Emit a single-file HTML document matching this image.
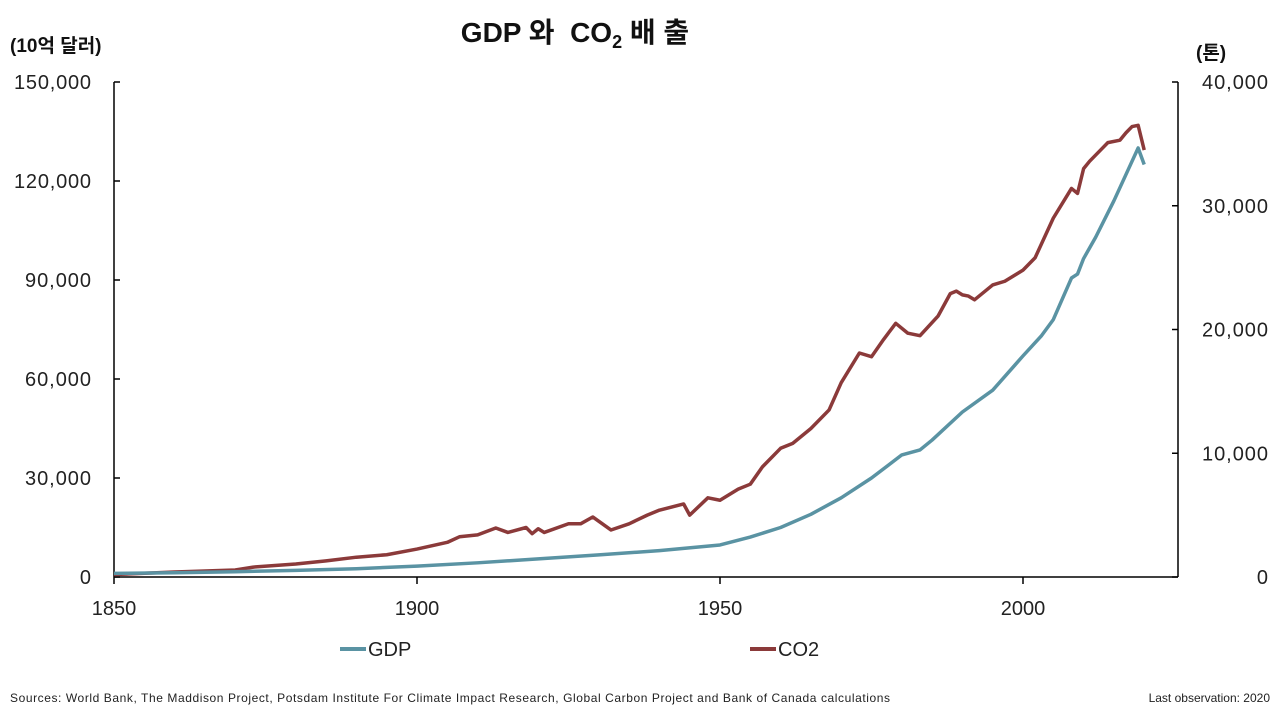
<!DOCTYPE html>
<html><head><meta charset="utf-8"><style>
body{margin:0;background:#fff;}
svg text{font-family:"Liberation Sans","Noto Sans CJK KR",sans-serif;}
</style></head><body>
<svg id="chart" width="1280" height="711" viewBox="0 0 1280 711">
<text x="575" y="42" text-anchor="middle" font-size="28" font-weight="bold" fill="#111">GDP 와 &#160;CO<tspan font-size="18" dy="6">2</tspan><tspan dy="-6"> 배 출</tspan></text>
<text x="10" y="52" font-size="19" font-weight="bold" fill="#111">(10억 달러)</text>
<text x="1196" y="59" font-size="19" font-weight="bold" fill="#111">(톤)</text>
<g id="axes"></g>
<g id="series"></g>
<g>
<line x1="340" y1="649" x2="366" y2="649" stroke="#5a93a3" stroke-width="4"/>
<text x="368" y="656" font-size="20" fill="#222">GDP</text>
<line x1="750" y1="649" x2="776" y2="649" stroke="#8b3a3a" stroke-width="4"/>
<text x="778" y="656" font-size="20" fill="#222">CO2</text>
</g>
<text x="10" y="702" font-size="12" fill="#222" textLength="880" lengthAdjust="spacing">Sources:  World Bank, The Maddison Project,  Potsdam Institute  For Climate  Impact  Research,  Global Carbon Project  and Bank of Canada calculations</text>
<text x="1270" y="702" font-size="12" fill="#222" text-anchor="end">Last observation: 2020</text>
</svg>
<script>
const xTicks=[1850,1900,1950,2000];
const leftTicks=[0,30000,60000,90000,120000,150000];
const rightTicks=[0,10000,20000,30000,40000];
const gdpYears=[1850,1860,1870,1880,1890,1900,1910,1920,1930,1940,1950,1955,1960,1965,1970,1975,1980,1983,1985,1990,1995,2000,2003,2005,2008,2009,2010,2012,2015,2018,2019,2020];
const gdpValues=[1100,1300,1600,2000,2500,3300,4300,5500,6700,8000,9700,12100,15000,19000,24000,30000,37000,38500,41500,50000,56600,67000,73000,78000,90600,91800,96500,103000,114000,126000,130000,125000];
const co2Years=[1850,1860,1870,1873,1880,1885,1890,1895,1900,1905,1907,1910,1913,1915,1918,1919,1920,1921,1925,1927,1929,1932,1935,1938,1940,1944,1945,1948,1950,1953,1955,1957,1960,1962,1965,1968,1970,1973,1975,1977,1979,1981,1983,1986,1988,1989,1990,1991,1992,1995,1997,2000,2002,2005,2008,2009,2010,2011,2013,2014,2016,2017,2018,2019,2020];
const co2Values=[200,400,570,800,1050,1300,1600,1800,2260,2800,3250,3400,3960,3600,4000,3500,3900,3600,4300,4300,4850,3800,4300,5000,5400,5900,5000,6400,6200,7100,7500,8900,10400,10800,12000,13500,15700,18100,17800,19200,20500,19700,19500,21100,22900,23100,22800,22700,22400,23600,23900,24800,25800,29000,31400,31000,33000,33600,34600,35100,35300,35900,36400,36500,34500];
const X=y=>114+(y-1850)*(1023-114)/150;
const YL=v=>577-v*(577-82)/150000;
const YR=v=>577-v*(577-82)/40000;
const ns="http://www.w3.org/2000/svg";
function mk(tag,attrs,parent){const e=document.createElementNS(ns,tag);for(const k in attrs)e.setAttribute(k,attrs[k]);parent.appendChild(e);return e;}
const ax=document.getElementById('axes');
let e;
e=mk('line',{x1:114,y1:577,x2:1178,y2:577,stroke:'#000','stroke-width':1.5},ax);


e=mk('line',{x1:114,y1:82,x2:114,y2:577,stroke:'#000','stroke-width':1.5},ax);


e=mk('line',{x1:1178,y1:82,x2:1178,y2:577,stroke:'#000','stroke-width':1.5},ax);


xTicks.forEach(t=>{
 mk('line',{x1:X(t),y1:577,x2:X(t),y2:584,stroke:'#000','stroke-width':1.5},ax);
 e=mk('text',{x:X(t),y:615,'text-anchor':'middle','font-size':20,fill:'#222'},ax);e.textContent=t;
 
 
});
leftTicks.forEach(t=>{
 mk('line',{x1:114,y1:YL(t),x2:120,y2:YL(t),stroke:'#000','stroke-width':1.5},ax);
 const s=t.toLocaleString('en-US');
 e=mk('text',{x:91,y:YL(t)+7,'text-anchor':'end','font-size':20,fill:'#222',textLength:s.length*11,lengthAdjust:'spacing'},ax);e.textContent=s;
 
 
});
rightTicks.forEach(t=>{
 mk('line',{x1:1172,y1:YR(t),x2:1178,y2:YR(t),stroke:'#000','stroke-width':1.5},ax);
 const s=t.toLocaleString('en-US');
 e=mk('text',{x:1268,y:YR(t)+7,'text-anchor':'end','font-size':20,fill:'#222',textLength:s.length*11,lengthAdjust:'spacing'},ax);e.textContent=s;
 
 
});
const sg=document.getElementById('series');
e=mk('polyline',{points:co2Years.map((y,i)=>X(y)+','+YR(co2Values[i])).join(' '),fill:'none',stroke:'#8b3a3a','stroke-width':3.5,'stroke-linejoin':'round'},sg);


e=mk('polyline',{points:gdpYears.map((y,i)=>X(y)+','+YL(gdpValues[i])).join(' '),fill:'none',stroke:'#5a93a3','stroke-width':3.5,'stroke-linejoin':'round'},sg);


</script>
</body></html>
